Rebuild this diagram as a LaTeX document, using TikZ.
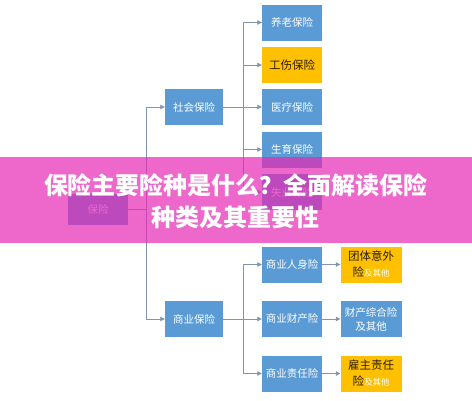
\documentclass[tikz,border=0pt]{standalone}
\usepackage{fontspec}
\setmainfont{Noto Sans CJK SC}
\usetikzlibrary{positioning, arrows.meta}

\definecolor{boxblue}{RGB}{91,155,213}
\definecolor{boxgold}{RGB}{255,192,0}
\definecolor{linkgray}{RGB}{128,150,176}
\definecolor{golddark}{RGB}{45,30,0}
\definecolor{bannerpink}{RGB}{230,40,180}

\tikzset{
  box/.style={rectangle, fill=boxblue, text=white, minimum width=58pt,
    minimum height=36pt, inner sep=1pt, align=center,
    font=\fontsize{10.5}{14}\selectfont},
  goldbox/.style={box, fill=boxgold, text=golddark,
    font=\fontsize{11.5}{16}\selectfont},
  link/.style={draw=linkgray, line width=0.8pt},
  arrow/.style={link, -{Triangle[length=4.5pt, width=4.5pt]}}
}
\newcommand{\minor}[1]{{\color{white}\fontsize{8.5}{12}\selectfont #1}}

\begin{document}
\begin{tikzpicture}[x=1pt, y=-1pt]
  \useasboundingbox (0,0) rectangle (472,400);
  \fill[white] (0,0) rectangle (472,400);

  % Boxes
  \node[box, minimum width=60pt, minimum height=31pt] (root) at (98,209.5) {保险};
  \node[box] (social) at (194,107) {社会保险};
  \node[box] (commerce) at (194,319) {商业保险};

  \node[box, minimum width=60pt] (s1) at (292,22.5) {养老保险};
  \node[goldbox, minimum width=60pt] (s2) at (292,65) {工伤保险};
  \node[box, minimum width=60pt] (s3) at (292,107) {医疗保险};
  \node[box, minimum width=60pt] (s4) at (292,149.5) {生育保险};
  \node[box, minimum width=60pt] (s5) at (292,192) {失业保险};

  \node[box, minimum width=60pt] (c1) at (292,264.5) {商业人身险};
  \node[box, minimum width=60pt] (c2) at (292,319) {商业财产险};
  \node[box, minimum width=60pt] (c3) at (292,373.5) {商业责任险};

  \node[goldbox, minimum width=61pt] (d1) at (371,264.5) {团体意外\\险\minor{及其他}};
  \node[box, minimum width=61pt] (d2) at (371,319) {财产综合险\\及其他};
  \node[goldbox, minimum width=61pt] (d3) at (371,373.5) {雇主责任\\险\minor{及其他}};

  % Trunks
  \coordinate (t0) at (146,209.5);
  \coordinate (ts) at (243,107);
  \coordinate (tc) at (243,319);

  % Connectors
  \draw[link] (root.east) -- (t0);
  \draw[arrow] (t0) |- (social.west);
  \draw[arrow] (t0) |- (commerce.west);

  \draw[link] (social.east) -- (ts);
  \foreach \n in {s1,s2,s3,s4,s5}
    \draw[arrow] (ts) |- (\n.west);

  \draw[link] (commerce.east) -- (tc);
  \foreach \n in {c1,c2,c3}
    \draw[arrow] (tc) |- (\n.west);

  \draw[arrow] (c1.east) -- (d1.west);
  \draw[arrow] (c2.east) -- (d2.west);
  \draw[arrow] (c3.east) -- (d3.west);

  % Banner
  \fill[bannerpink, opacity=0.7] (0,157) rectangle (472,243);
  \node[text=white, align=center, font=\bfseries\fontsize{24}{32}\selectfont]
    (title) at (236,201) {保险主要险种是什么？全面解读保险\\种类及其重要性};
\end{tikzpicture}
\end{document}
